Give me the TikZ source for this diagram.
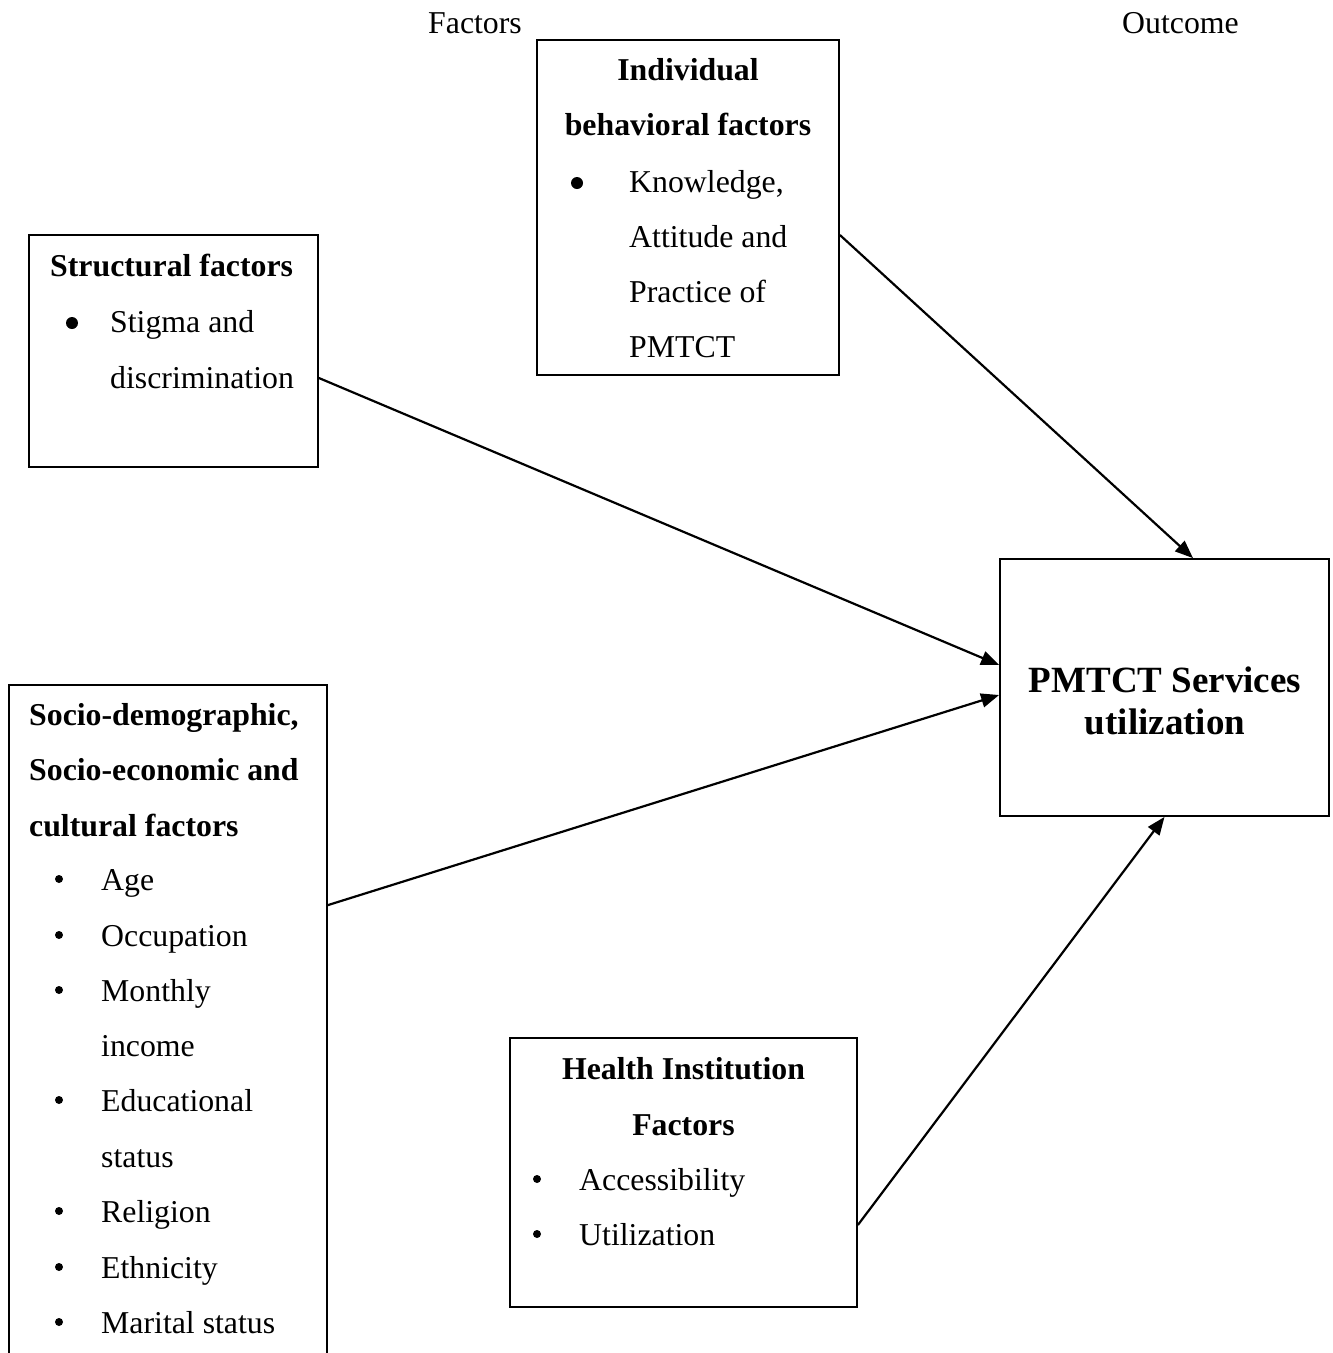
\documentclass[tikz,border=0pt]{standalone}
\usepackage{fontspec}
\setmainfont{Liberation Serif}
\usetikzlibrary{arrows.meta}
\begin{document}
\begin{tikzpicture}[x=1pt,y=-1pt,
  box/.style={draw, line width=1.8pt, rectangle, inner sep=0pt},
  txt/.style={anchor=base west, inner sep=0pt, font=\fontsize{31.8}{38}\selectfont},
  btxt/.style={anchor=base west, inner sep=0pt, font=\fontsize{31.8}{38}\selectfont\bfseries},
  ctxt/.style={anchor=base, inner sep=0pt, font=\fontsize{31.8}{38}\selectfont\bfseries},
  big/.style={anchor=base, inner sep=0pt, font=\fontsize{37}{42}\selectfont\bfseries},
  arr/.style={-{Triangle[length=18pt,width=14pt]}, line width=2.2pt},
  bigdot/.style={fill=black},
]
\useasboundingbox (0,0) rectangle (1333,1353);
\clip (0,0) rectangle (1333,1353);

% headings
\node[txt] (hf) at (428,33) {Factors};
\node[txt] (ho) at (1122,33) {Outcome};

% boxes
\node[box, minimum width=302pt, minimum height=335pt] (ind) at (688,207.5) {};
\node[box, minimum width=289pt, minimum height=232pt] (str) at (173.5,351) {};
\node[box, minimum width=318pt, minimum height=760pt] (soc) at (168,1065) {};
\node[box, minimum width=347pt, minimum height=269pt] (hi) at (683.5,1172.5) {};
\node[box, minimum width=329pt, minimum height=257pt] (pm) at (1164.5,687.5) {};

% Individual behavioral factors
\node[ctxt] (i1) at (688,80) {Individual};
\node[ctxt] (i2) at (688,135) {behavioral factors};
\fill[bigdot] (577,183) circle (6);
\node[txt] (i3) at (629,192) {Knowledge,};
\node[txt] (i4) at (629,247) {Attitude and};
\node[txt] (i5) at (629,302) {Practice of};
\node[txt] (i6) at (629,357) {PMTCT};

% Structural factors
\node[btxt] (s1) at (50,276) {Structural factors};
\fill[bigdot] (72,323) circle (6);
\node[txt] (s2) at (110,332) {Stigma and};
\node[txt] (s3) at (110,388) {discrimination};

% Socio-demographic
\node[btxt] (d1) at (29,725) {Socio-demographic,};
\node[btxt] (d2) at (29,780) {Socio-economic and};
\node[btxt] (d3) at (29,836) {cultural factors};
\foreach \y/\t/\b in {890/Age/1, 946/Occupation/1, 1001/Monthly/1, 1056/income/0, 1111/Educational/1, 1167/status/0, 1222/Religion/1, 1278/Ethnicity/1, 1333/Marital status/1}{
  \node[txt] (d\y) at (101,\y) {\t};
  \ifnum\b=1 \fill (59,\y-11) circle (4); \fi
}

% Health institution factors
\node[ctxt] (h1) at (683.5,1079) {Health Institution};
\node[ctxt] (h2) at (683.5,1135) {Factors};
\fill (537,1179) circle (4);
\node[txt] (h3) at (579,1190) {Accessibility};
\fill (537,1234) circle (4);
\node[txt] (h4) at (579,1245) {Utilization};

% Outcome
\node[big] (p1) at (1165,692) {PMTCT Services};
\node[big] (p2) at (1165,734) {utilization};

% arrows
\draw[arr] ([yshift=-27.5pt]ind.east) -- ([xshift=28.5pt]pm.north);
\draw[arr] ([yshift=-27pt]str.east) -- ([yshift=22.5pt]pm.west);
\draw[arr] ([yshift=-221pt]soc.north east) -- ([yshift=-7.5pt]pm.west);
\draw[arr] ([yshift=-52.5pt]hi.east) -- (pm.south);
\end{tikzpicture}
\end{document}
